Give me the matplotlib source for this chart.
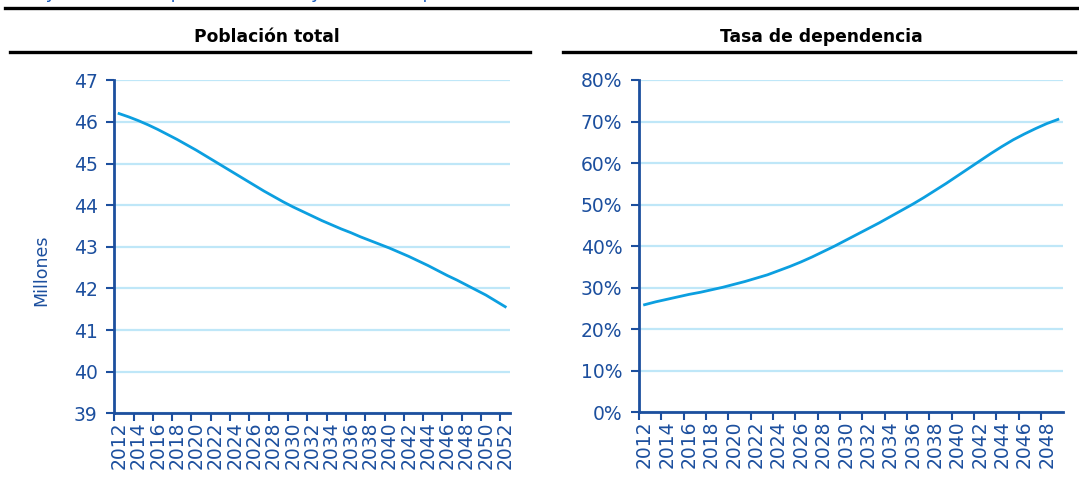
import matplotlib.pyplot as plt
from matplotlib.lines import Line2D
from matplotlib.ticker import FuncFormatter

# population projection, millions (2012-2052)
years_pob = list(range(2012, 2053))
poblacion = [46.20, 46.12, 46.03, 45.93, 45.82, 45.70, 45.58, 45.45, 45.32, 45.18,
             45.04, 44.90, 44.76, 44.62, 44.48, 44.34, 44.21, 44.08, 43.96, 43.85,
             43.74, 43.63, 43.53, 43.43, 43.34, 43.24, 43.15, 43.06, 42.97, 42.87,
             42.77, 42.66, 42.55, 42.43, 42.31, 42.20, 42.08, 41.96, 41.84, 41.70,
             41.56]

# dependency ratio, % (2012-2049)
years_dep = list(range(2012, 2050))
dependencia = [25.9, 26.6, 27.2, 27.8, 28.4, 28.9, 29.5, 30.1, 30.8, 31.5,
               32.3, 33.1, 34.1, 35.1, 36.2, 37.4, 38.7, 40.0, 41.4, 42.8,
               44.2, 45.6, 47.1, 48.6, 50.1, 51.7, 53.4, 55.1, 56.9, 58.7,
               60.5, 62.3, 64.0, 65.6, 67.0, 68.3, 69.5, 70.5]

titulo = "Proyección de la población total y tasa de dependencia"
titulo_izq = "Población total"
titulo_der = "Tasa de dependencia"

AXIS_BLUE = "#1c4f9e"
LINE_BLUE = "#0c9fe0"
GRID_BLUE = "#bfe7f8"

plt.rcParams["font.family"] = ["DejaVu Sans"]

fig = plt.figure(figsize=(10.79, 4.86), dpi=100)


def style_axes(ax, years, ylim, yticks):
    # category axis: one slot per year, tick marks between slots, labels every 2 years
    ax.set_xlim(years[0] - 0.5, years[-1] + 0.5)
    ax.set_ylim(*ylim)
    ax.set_yticks(yticks)
    ax.set_xticks([y - 0.5 for y in years[::2]])
    ax.set_xticklabels([])
    ax.set_xticks(years[::2], minor=True)
    ax.set_xticklabels([str(y) for y in years[::2]], minor=True, rotation=90)
    ax.tick_params(axis="x", which="minor", length=0, pad=6, labelsize=13.5,
                   labelcolor=AXIS_BLUE)
    ax.tick_params(axis="x", which="major", length=6, width=1.5, color=AXIS_BLUE)
    ax.tick_params(axis="y", length=6, width=1.5, color=AXIS_BLUE, pad=6,
                   labelsize=13.5, labelcolor=AXIS_BLUE)
    for side in ("top", "right"):
        ax.spines[side].set_visible(False)
    for side in ("left", "bottom"):
        ax.spines[side].set_color(AXIS_BLUE)
        ax.spines[side].set_linewidth(2)
    ax.grid(axis="y", color=GRID_BLUE, linewidth=1.6)
    ax.set_axisbelow(True)


ax1 = fig.add_axes([0.1059, 0.1496, 0.3668, 0.6852])
ax1.plot(years_pob, poblacion, color=LINE_BLUE, linewidth=2.0, clip_on=False)
style_axes(ax1, years_pob, (39, 47), range(39, 48))
ax1.set_ylabel("Millones", color=AXIS_BLUE, fontsize=12.5)
ax1.yaxis.set_label_coords(-0.163, 0.43)

ax2 = fig.add_axes([0.5922, 0.1516, 0.3934, 0.6838])
ax2.plot(years_dep, dependencia, color=LINE_BLUE, linewidth=2.0, clip_on=False)
style_axes(ax2, years_dep, (0, 80), range(0, 81, 10))
ax2.yaxis.set_major_formatter(FuncFormatter(lambda v, p: "%d%%" % v))

# header rules and panel titles
H = 486.0
W = 1079.0
fig.add_artist(Line2D([5 / W, 1], [1 - 8 / H] * 2, color="black", linewidth=2.4))
fig.add_artist(Line2D([10 / W, 530 / W], [1 - 52 / H] * 2, color="black", linewidth=2.4))
fig.add_artist(Line2D([563 / W, 1075 / W], [1 - 52 / H] * 2, color="black", linewidth=2.4))
fig.text(267 / W, 1 - 37 / H, titulo_izq, ha="center", va="center",
         fontsize=12.3, fontweight="bold")
fig.text(821 / W, 1 - 37 / H, titulo_der, ha="center", va="center",
         fontsize=12.3, fontweight="bold")
# chart heading sits above the crop, only its descenders show
fig.text(17 / W, 1 + 2 / H, titulo, ha="left", va="baseline",
         fontsize=13, color="#1f5fbf")

fig.savefig("out.png", dpi=100)
